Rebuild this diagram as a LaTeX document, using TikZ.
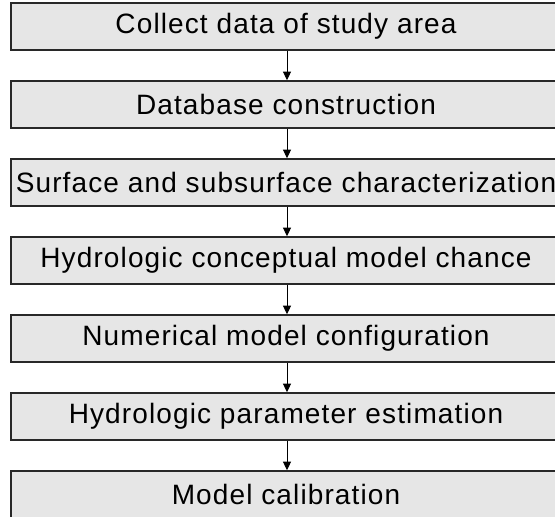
\documentclass[tikz,border=0pt]{standalone}
\usepackage{tikz}
\usetikzlibrary{arrows.meta}
\usepackage{xcolor}
\usepackage{fontspec}
\setmainfont{Liberation Sans}

\tikzset{
  stagebox/.style={draw={rgb,255:red,40;green,40;blue,40},line width=1.1pt,fill={rgb,255:red,230;green,230;blue,230},minimum width=412.5pt,minimum height=35.25pt,inner sep=0pt,font=\fontsize{21}{24}\selectfont\addfontfeature{LetterSpace=4}},
  flowarrow/.style={draw=black,line width=0.75pt,-{Triangle[width=6pt,length=6.5pt]}}
}

\begin{document}
\begin{tikzpicture}[x=0.75pt,y=0.75pt,yscale=-1,xscale=1]
\useasboundingbox (0,0) rectangle (555,516);
\clip (0,0) rectangle (555,516);

% Text Node
\node[stagebox] (collect) at (286,26.5) {Collect data of study area};
% Text Node
\node[stagebox] (database) at (286,104.5) {Database construction};
% Text Node
\node[stagebox] (surface) at (286,182.5) {Surface and subsurface characterization};
% Text Node
\node[stagebox] (concept) at (286,260.5) {Hydrologic conceptual model chance};
% Text Node
\node[stagebox] (numeric) at (286,338.5) {Numerical model configuration};
% Text Node
\node[stagebox] (param) at (286,416.5) {Hydrologic parameter estimation};
% Text Node
\node[stagebox] (calib) at (286,494.5) {Model calibration};

%Straight Lines
\draw[flowarrow] (collect.south -| 287,0) -- (database.north -| 287,0);
\draw[flowarrow] (database.south -| 287,0) -- (surface.north -| 287,0);
\draw[flowarrow] (surface.south -| 287,0) -- (concept.north -| 287,0);
\draw[flowarrow] (concept.south -| 287,0) -- (numeric.north -| 287,0);
\draw[flowarrow] (numeric.south -| 287,0) -- (param.north -| 287,0);
\draw[flowarrow] (param.south -| 287,0) -- (calib.north -| 287,0);

\end{tikzpicture}
\end{document}
